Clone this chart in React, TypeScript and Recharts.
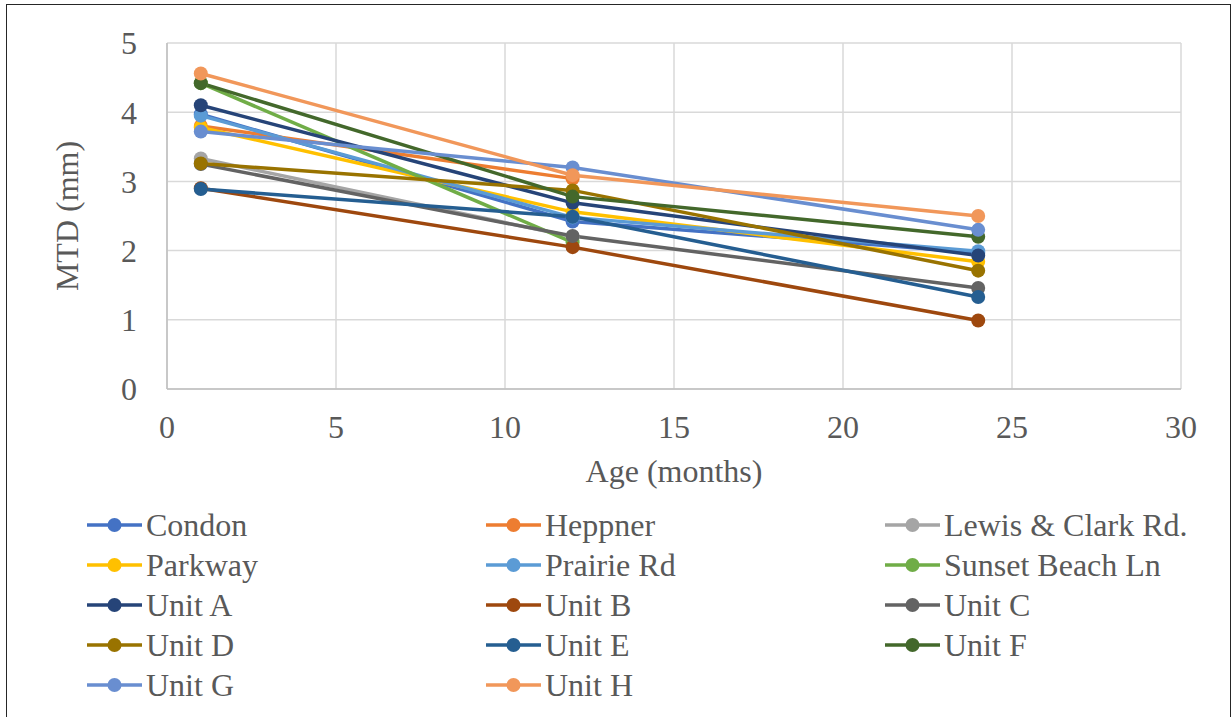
import React from 'react';
import { LineChart, Line, XAxis, YAxis, CartesianGrid, Legend } from 'recharts';

const ages = [1, 12, 24];

const condon = [3.97, 2.42, 1.97];
const heppner = [3.8, 3.04, null];
const lewisClark = [3.33, 2.2, null];
const parkway = [3.78, 2.56, 1.84];
const prairieRd = [3.95, 2.48, 1.99];
const sunsetBeach = [4.42, 2.12, null];
const unitA = [4.1, 2.69, 1.93];
const unitB = [2.9, 2.05, 0.99];
const unitC = [3.25, 2.21, 1.46];
const unitD = [3.26, 2.87, 1.71];
const unitE = [2.89, 2.49, 1.33];
const unitF = [4.42, 2.78, 2.2];
const unitG = [3.72, 3.2, 2.3];
const unitH = [4.56, 3.09, 2.5];

const xTicks = [0, 5, 10, 15, 20, 25, 30];
const yTicks = [0, 1, 2, 3, 4, 5];

const series = [
  { name: 'Condon', values: condon, color: '#4472C4' },
  { name: 'Heppner', values: heppner, color: '#ED7D31' },
  { name: 'Lewis & Clark Rd.', values: lewisClark, color: '#A5A5A5' },
  { name: 'Parkway', values: parkway, color: '#FFC000' },
  { name: 'Prairie Rd', values: prairieRd, color: '#5B9BD5' },
  { name: 'Sunset Beach Ln', values: sunsetBeach, color: '#70AD47' },
  { name: 'Unit A', values: unitA, color: '#264478' },
  { name: 'Unit B', values: unitB, color: '#9E480E' },
  { name: 'Unit C', values: unitC, color: '#636363' },
  { name: 'Unit D', values: unitD, color: '#997300' },
  { name: 'Unit E', values: unitE, color: '#255E91' },
  { name: 'Unit F', values: unitF, color: '#43682B' },
  { name: 'Unit G', values: unitG, color: '#698ED0' },
  { name: 'Unit H', values: unitH, color: '#F1975A' },
];

// one row per age, one key per series
const data = ages.map((age, i) => {
  const row: Record<string, number | null> = { age };
  series.forEach((s) => {
    row[s.name] = s.values[i];
  });
  return row;
});

const FONT = '"Liberation Serif", "Times New Roman", serif';
const TEXT = '#595959';

function LegendBox() {
  return (
    <div
      style={{
        display: 'grid',
        gridTemplateColumns: '399px 399px 399px',
        gridAutoRows: '40px',
        fontFamily: FONT,
        fontSize: 32,
        color: TEXT,
        height: 200,
      }}
    >
      {series.map((s) => (
        <div key={s.name} style={{ display: 'flex', alignItems: 'center', whiteSpace: 'nowrap' }}>
          <svg width={55} height={16} style={{ flex: 'none' }}>
            <line x1={0} y1={8} x2={55} y2={8} stroke={s.color} strokeWidth={3.5} />
            <circle cx={27.5} cy={8} r={7} fill={s.color} />
          </svg>
          <span style={{ marginLeft: 4, lineHeight: '40px' }}>{s.name}</span>
        </div>
      ))}
    </div>
  );
}

export default function App() {
  return (
    <div style={{ position: 'absolute', left: 0, top: 0, width: 1232, height: 717, overflow: 'hidden', background: '#fff' }}>
      <div
        style={{
          position: 'absolute',
          left: 6,
          top: 4,
          width: 1225,
          height: 730,
          border: '1.5px solid #262626',
          boxSizing: 'border-box',
        }}
      />
      <div style={{ position: 'absolute', left: 0, top: 0 }}>
        <LineChart
          width={1232}
          height={717}
          data={data}
          margin={{ top: 43, right: 51, left: 47, bottom: 48 }}
        >
          <CartesianGrid stroke="#d9d9d9" strokeWidth={1.5} />
          <XAxis
            dataKey="age"
            type="number"
            domain={[0, 30]}
            ticks={xTicks}
            height={80}
            tickLine={false}
            tickMargin={20}
            axisLine={{ stroke: '#bfbfbf', strokeWidth: 1.5 }}
            tick={{ fill: TEXT, fontSize: 32, fontFamily: FONT }}
            label={({ viewBox }: any) => (
              <text
                x={viewBox.x + viewBox.width / 2}
                y={viewBox.y + 82}
                textAnchor="middle"
                dominantBaseline="central"
                fill={TEXT}
                fontSize={32}
                fontFamily={FONT}
              >
                Age (months)
              </text>
            )}
          />
          <YAxis
            type="number"
            domain={[0, 5]}
            ticks={yTicks}
            width={120}
            tickLine={false}
            tickMargin={24}
            axisLine={{ stroke: '#bfbfbf', strokeWidth: 1.5 }}
            tick={{ fill: TEXT, fontSize: 32, fontFamily: FONT }}
            label={({ viewBox }: any) => {
              const cx = viewBox.x + 20;
              const cy = viewBox.y + viewBox.height / 2;
              return (
                <text
                  x={cx}
                  y={cy}
                  transform={`rotate(-90, ${cx}, ${cy})`}
                  textAnchor="middle"
                  dominantBaseline="central"
                  fill={TEXT}
                  fontSize={32}
                  fontFamily={FONT}
                >
                  MTD (mm)
                </text>
              );
            }}
          />
          <Legend
            verticalAlign="bottom"
            content={() => <LegendBox />}
            wrapperStyle={{ left: 87, top: 505, bottom: 'auto', width: 1145, height: 200 }}
          />
          {series.map((s) => (
            <Line
              key={s.name}
              dataKey={s.name}
              name={s.name}
              type="linear"
              stroke={s.color}
              strokeWidth={3.5}
              dot={{ r: 7, fill: s.color, stroke: s.color, strokeWidth: 0 }}
              activeDot={false}
              isAnimationActive={false}
            />
          ))}
        </LineChart>
      </div>
    </div>
  );
}
